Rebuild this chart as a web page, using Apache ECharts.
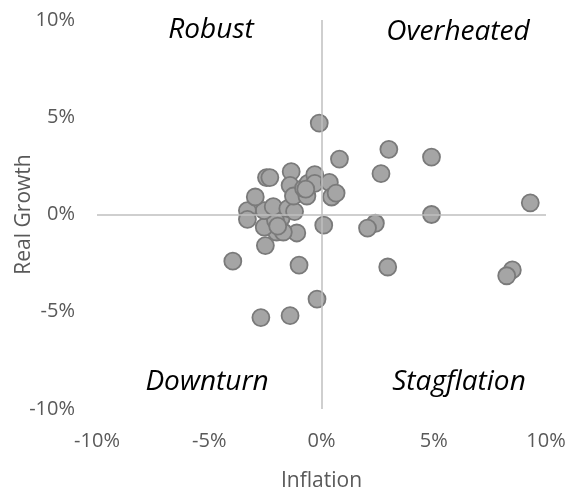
<!DOCTYPE html>
<html><head><meta charset="utf-8">
<script src="https://cdn.jsdelivr.net/npm/echarts@6/dist/echarts.min.js"></script>
<style>html,body{margin:0;padding:0;background:#fff}#c{width:569px;height:493px}</style>
</head><body><div id="c"></div>
<script>
const inflation = [-0.1,0.8,3.0,4.9,2.65,9.3,4.9,2.4,2.05,2.95,8.5,8.25,0.1,-0.2,-1.4,-2.7,-3.95,-1.0,-2.5,-1.1,-2.0,-1.7,-2.55,-1.8,-2.05,-2.55,-2.15,-3.3,-3.3,-2.95,-2.45,-2.3,-1.35,-1.4,-1.5,-1.2,-1.25,-0.65,-0.8,-0.6,-0.3,-0.3,0.35,0.45,0.65,-1.95,-0.7];
const realGrowth = [4.7,2.85,3.35,2.95,2.1,0.6,0.0,-0.45,-0.7,-2.7,-2.85,-3.15,-0.55,-4.35,-5.2,-5.3,-2.4,-2.6,-1.6,-0.95,-0.9,-0.9,-0.65,-0.2,-0.3,0.2,0.4,0.2,-0.25,0.9,1.9,1.9,2.2,1.5,0.3,0.15,0.95,0.95,1.35,1.6,2.05,1.6,1.65,0.9,1.1,-0.6,1.3];
const axisTicks = [-10,-5,0,5,10];
const quadrantLabels = ['Robust','Overheated','Downturn','Stagflation'];

const pts = inflation.map((x,i)=>[x, realGrowth[i]]);
const font = '"Open Sans", sans-serif';
const chart = echarts.init(document.getElementById('c'));
const axisCommon = {
  min: axisTicks[0], max: axisTicks[axisTicks.length-1], interval: 5,
  axisLine:{show:false}, axisTick:{show:false}, splitLine:{show:false},
  axisLabel:{formatter:'{value}%', color:'#595959', fontSize:20, fontFamily:font},
  nameLocation:'middle', nameMoveOverlap:false,
  nameTextStyle:{color:'#595959', fontSize:21, fontFamily:font}
};
const qStyle = {fill:'#000', fontSize:28, fontStyle:'italic', fontFamily:font, textAlign:'center', textVerticalAlign:'middle'};
chart.setOption({
  animation:false,
  grid:{left:97, right:23, top:20, bottom:84, containLabel:false, outerBoundsMode:'none'},
  xAxis: Object.assign({}, axisCommon, {type:'value', name:'Inflation', nameGap:62,
    axisLabel:Object.assign({}, axisCommon.axisLabel, {margin:22})}),
  yAxis: Object.assign({}, axisCommon, {type:'value', name:'Real Growth', nameGap:62,
    axisLabel:Object.assign({}, axisCommon.axisLabel, {margin:22})}),
  graphic:[
    {type:'text', x:211, y:30, style:Object.assign({text:quadrantLabels[0]}, qStyle)},
    {type:'text', x:458, y:32, style:Object.assign({text:quadrantLabels[1]}, qStyle)},
    {type:'text', x:207, y:382, style:Object.assign({text:quadrantLabels[2]}, qStyle)},
    {type:'text', x:459, y:382, style:Object.assign({text:quadrantLabels[3]}, qStyle)}
  ],
  series:[{
    type:'scatter', data:pts, symbolSize:17,
    itemStyle:{color:'#a5a5a5', borderColor:'#7a7a7a', borderWidth:1.8, opacity:1},
    markLine:{silent:true, symbol:'none', label:{show:false},
      lineStyle:{color:'#bfbfbf', type:'solid', width:1.5},
      data:[{xAxis:0},{yAxis:0}]},
    z:3
  }]
});
</script></body></html>
